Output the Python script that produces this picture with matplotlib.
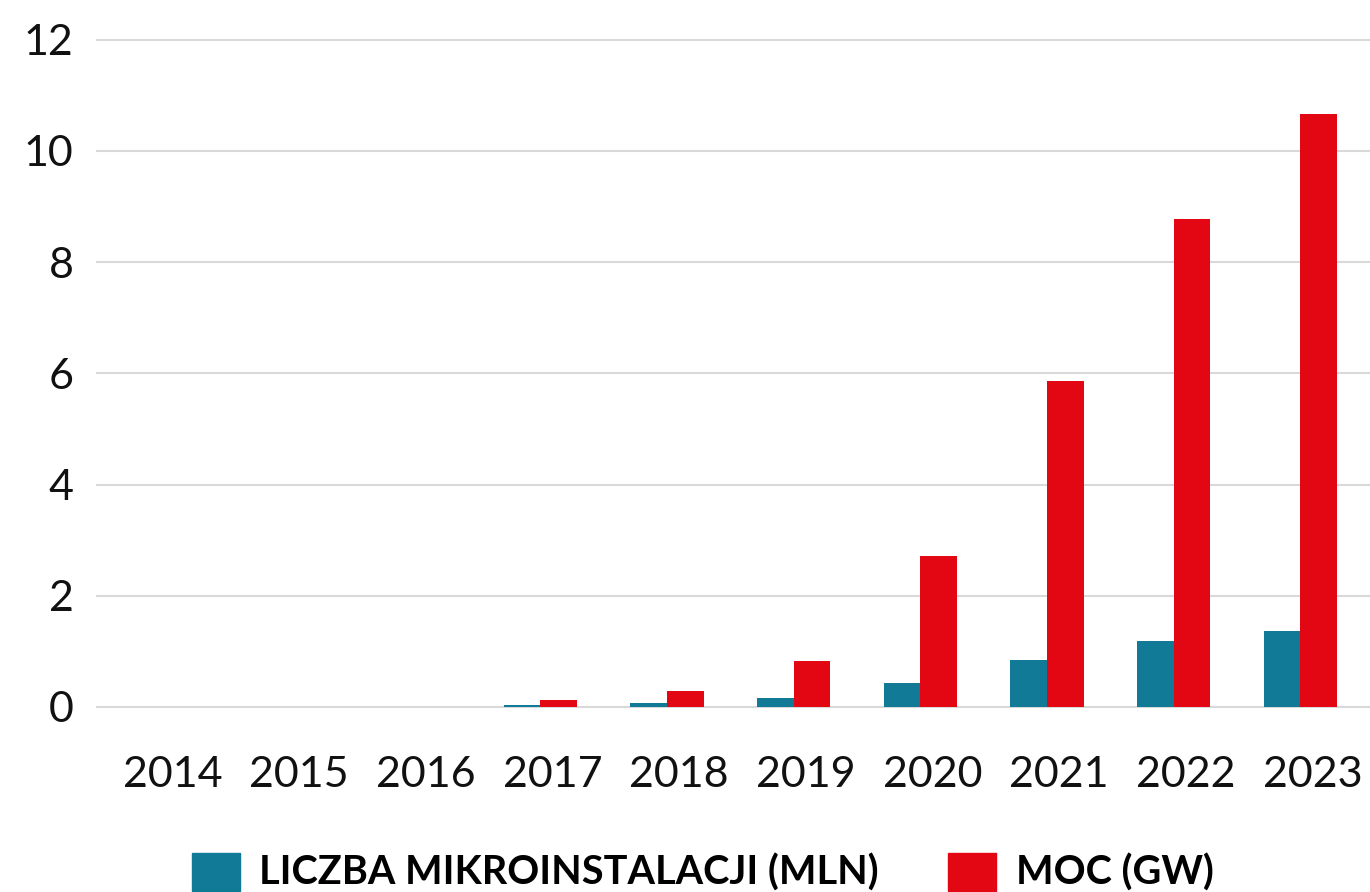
import numpy as np
import matplotlib.pyplot as plt
import matplotlib.transforms as mtransforms
from matplotlib.patches import Patch

# Data
years = ["2014", "2015", "2016", "2017", "2018", "2019", "2020", "2021", "2022", "2023"]
count_mln = [0.0, 0.0, 0.0, 0.03, 0.07, 0.16, 0.44, 0.85, 1.19, 1.37]
power_gw = [0.0, 0.0, 0.0, 0.12, 0.28, 0.82, 2.72, 5.87, 8.78, 10.67]
labels = ["LICZBA MIKROINSTALACJI (MLN)", "MOC (GW)"]

BLUE = "#117a96"
RED = "#e30613"

plt.rcParams['font.family'] = ['Lato', 'DejaVu Sans']

fig = plt.figure(figsize=(13.7, 8.92), dpi=100)
ax = fig.add_axes([0.0708, 0.2074, 0.9292, 0.748])

x = np.arange(len(years))
w = 0.29
ax.bar(x - w / 2, count_mln, w, color=BLUE, zorder=3)
ax.bar(x + w / 2, power_gw, w, color=RED, zorder=3)

ax.set_xlim(-0.5, 9.55)
ax.set_ylim(0, 12)
ax.set_yticks(range(0, 13, 2))
ax.set_xticks(x)
ax.set_xticklabels(years)
ax.yaxis.grid(True, color="#d9d9d9", linewidth=1.5, zorder=0)
ax.tick_params(axis='both', length=0, labelsize=31, colors="#111111")
ax.tick_params(axis='y', pad=17)
ax.tick_params(axis='x', pad=35)
for s in ax.spines.values():
    s.set_visible(False)
for gl in ax.get_ygridlines():
    gl.set_clip_on(False)

# year labels sit a bit right of the bar pairs in the original
shift = mtransforms.ScaledTranslation(0.12, 0, fig.dpi_scale_trans)
for lbl in ax.get_xticklabels():
    lbl.set_transform(lbl.get_transform() + shift)

handles = [Patch(color=BLUE), Patch(color=RED)]
fig.legend(handles, labels, loc='lower center', bbox_to_anchor=(0.513, -0.04),
           ncol=2, frameon=False, handlelength=1.2, handleheight=1.1,
           handletextpad=0.5, columnspacing=1.75,
           prop={'family': 'Lato', 'weight': 'bold', 'size': 28.5})

fig.savefig("out.png", dpi=100)
